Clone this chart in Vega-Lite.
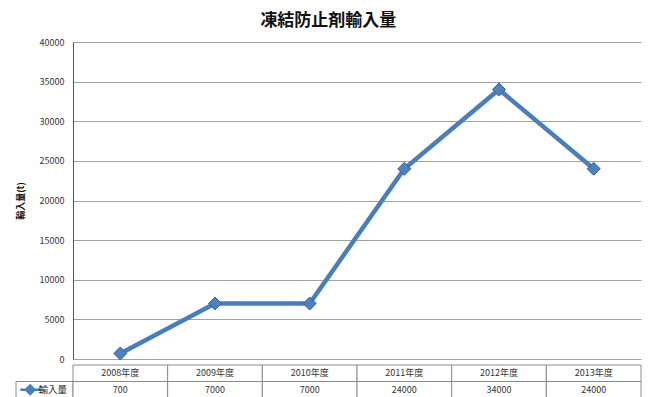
{
  "$schema": "https://vega.github.io/schema/vega-lite/v6.json",
  "background": "white",
  "padding": {"left": 15, "top": 12, "right": 5, "bottom": 4},
  "datasets": {
    "imports": [
      {"year": "2008年度", "value": 700},
      {"year": "2009年度", "value": 7000},
      {"year": "2010年度", "value": 7000},
      {"year": "2011年度", "value": 24000},
      {"year": "2012年度", "value": 34000},
      {"year": "2013年度", "value": 24000}
    ],
    "legendRow": [{"label": "輸入量"}]
  },
  "title": {
    "text": "凍結防止剤輸入量",
    "anchor": "middle",
    "font": "Noto Sans CJK JP",
    "fontSize": 17,
    "fontWeight": "bold",
    "color": "#111111",
    "offset": 8
  },
  "spacing": 0,
  "vconcat": [
    {
      "width": 568,
      "height": 317,
      "data": {"name": "imports"},
      "encoding": {
        "x": {
          "field": "year",
          "type": "ordinal",
          "sort": null,
          "scale": {"type": "point", "padding": 0.5},
          "axis": null
        },
        "y": {
          "field": "value",
          "type": "quantitative",
          "scale": {"domain": [0, 40000], "nice": false},
          "axis": {
            "title": "輸入量(t)",
            "titleFont": "Noto Sans CJK JP",
            "titleFontSize": 9,
            "titleFontWeight": "bold",
            "titleColor": "#111111",
            "titlePadding": 12,
            "values": [0, 5000, 10000, 15000, 20000, 25000, 30000, 35000, 40000],
            "format": "d",
            "labelFont": "Noto Sans CJK JP",
            "labelFontSize": 9,
            "labelColor": "#333333",
            "labelPadding": 9,
            "ticks": false,
            "domainColor": "#555555",
            "grid": true,
            "gridColor": "#a0a0a0",
            "gridWidth": 1,
            "minExtent": 36,
            "maxExtent": 36
          }
        }
      },
      "layer": [
        {
          "mark": {"type": "line", "color": "#4A7EBB", "strokeWidth": 4.5}
        },
        {
          "mark": {
            "type": "point",
            "shape": "diamond",
            "filled": true,
            "size": 170,
            "fill": "#4F81BD",
            "stroke": "#36639A",
            "strokeWidth": 1,
            "opacity": 1
          }
        }
      ]
    },
    {
      "width": 568,
      "height": 33,
      "layer": [
        {
          "data": {"name": "legendRow"},
          "mark": {"type": "rect", "fill": "white", "stroke": "#8a8a8a", "strokeWidth": 1},
          "encoding": {
            "x": {
              "datum": "legend",
              "type": "nominal",
              "scale": {"type": "band", "domain": ["legend"], "range": [-57, 0], "paddingInner": 0, "paddingOuter": 0},
              "axis": null
            },
            "y": {
              "datum": "値",
              "type": "nominal",
              "scale": {"domain": ["年度", "値"], "paddingInner": 0, "paddingOuter": 0},
              "axis": null
            }
          }
        },
        {
          "data": {"name": "legendRow"},
          "mark": {
            "type": "point",
            "shape": "M-1,0L1,0M-0.42,0L0,-0.42L0.42,0L0,0.42Z",
            "size": 400,
            "filled": true,
            "fill": "#4F81BD",
            "stroke": "#4A7EBB",
            "strokeWidth": 2.5,
            "opacity": 1,
            "dx": -3
          },
          "encoding": {
            "x": {
              "datum": "sym",
              "type": "nominal",
              "scale": {"type": "band", "domain": ["sym", "label"], "range": [-57, 0], "paddingInner": 0, "paddingOuter": 0},
              "axis": null
            },
            "y": {"datum": "値", "type": "nominal", "axis": null}
          }
        },
        {
          "data": {"name": "legendRow"},
          "mark": {
            "type": "text",
            "font": "Noto Sans CJK JP",
            "fontSize": 9.5,
            "color": "#222222",
            "dx": -6
          },
          "encoding": {
            "x": {
              "datum": "label",
              "type": "nominal",
              "scale": {"type": "band", "domain": ["sym", "label"], "range": [-57, 0], "paddingInner": 0, "paddingOuter": 0},
              "axis": null
            },
            "y": {"datum": "値", "type": "nominal", "axis": null},
            "text": {"field": "label"}
          }
        },
        {
          "data": {"name": "imports"},
          "mark": {"type": "rect", "fill": "white", "stroke": "#8a8a8a", "strokeWidth": 1},
          "encoding": {
            "x": {
              "field": "year",
              "type": "ordinal",
              "sort": null,
              "scale": {"type": "band", "paddingInner": 0, "paddingOuter": 0},
              "axis": null
            },
            "y": {"datum": "年度", "type": "nominal", "axis": null}
          }
        },
        {
          "data": {"name": "imports"},
          "mark": {"type": "rect", "fill": "white", "stroke": "#8a8a8a", "strokeWidth": 1},
          "encoding": {
            "x": {
              "field": "year",
              "type": "ordinal",
              "sort": null,
              "scale": {"type": "band", "paddingInner": 0, "paddingOuter": 0},
              "axis": null
            },
            "y": {"datum": "値", "type": "nominal", "axis": null}
          }
        },
        {
          "data": {"name": "imports"},
          "mark": {"type": "text", "font": "Noto Sans CJK JP", "fontSize": 9, "color": "#333333"},
          "encoding": {
            "x": {
              "field": "year",
              "type": "ordinal",
              "sort": null,
              "scale": {"type": "band", "paddingInner": 0, "paddingOuter": 0},
              "axis": null
            },
            "y": {"datum": "年度", "type": "nominal", "axis": null},
            "text": {"field": "year"}
          }
        },
        {
          "data": {"name": "imports"},
          "mark": {"type": "text", "font": "Noto Sans CJK JP", "fontSize": 9, "color": "#333333"},
          "encoding": {
            "x": {
              "field": "year",
              "type": "ordinal",
              "sort": null,
              "scale": {"type": "band", "paddingInner": 0, "paddingOuter": 0},
              "axis": null
            },
            "y": {"datum": "値", "type": "nominal", "axis": null},
            "text": {"field": "value", "type": "quantitative", "format": "d"}
          }
        }
      ],
      "resolve": {"scale": {"x": "independent"}}
    }
  ],
  "config": {
    "view": {"stroke": null},
    "concat": {"spacing": 0}
  }
}
